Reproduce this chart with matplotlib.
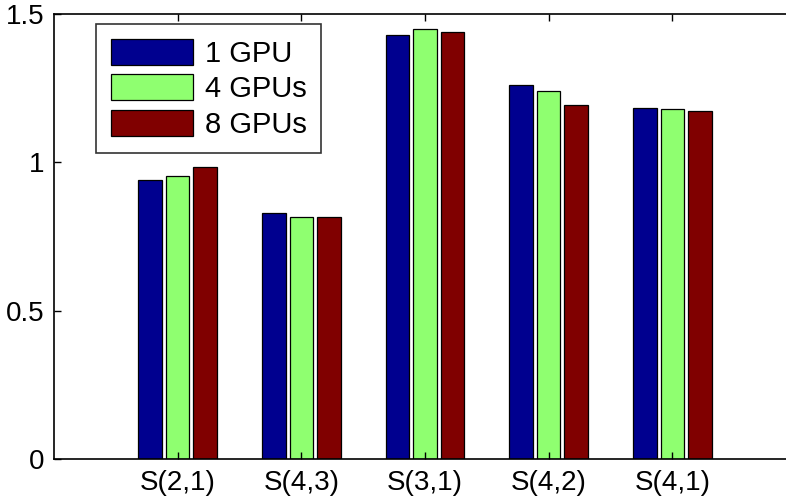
import matplotlib
matplotlib.use("Agg")
import matplotlib.pyplot as plt
import numpy as np

plt.rcParams['font.family'] = ['Liberation Sans', 'DejaVu Sans']

categories = ["S(2,1)", "S(4,3)", "S(3,1)", "S(4,2)", "S(4,1)"]
series_names = ["1 GPU", "4 GPUs", "8 GPUs"]
gpu1 = [0.940, 0.830, 1.429, 1.262, 1.183]
gpu4 = [0.955, 0.816, 1.449, 1.239, 1.181]
gpu8 = [0.984, 0.816, 1.438, 1.194, 1.172]
colors = ["#00008F", "#8FFF70", "#800000"]

fig = plt.figure(figsize=(7.86, 5.01), dpi=100)
ax = fig.add_axes([54/786, 42/501, (796-54)/786, 445/501])

x = np.arange(1, len(categories) + 1)
offset = 0.222
width = 0.19
for i, (vals, name, c) in enumerate(zip([gpu1, gpu4, gpu8], series_names, colors)):
    ax.bar(x + (i - 1) * offset, vals, width, color=c, edgecolor='black',
           linewidth=0.9, label=name)

ax.set_xlim(0, 6)
ax.set_ylim(0, 1.5)
ax.set_xticks(x)
ax.set_xticklabels(categories)
ax.set_yticks([0, 0.5, 1, 1.5])
ax.set_yticklabels(["0", "0.5", "1", "1.5"])
ax.tick_params(direction='in', length=5, width=1, labelsize=20,
               top=True, right=True, colors='black')
ax.tick_params(axis='x', pad=8)
ax.tick_params(axis='y', pad=7)
for s in ax.spines.values():
    s.set_linewidth(1.2)

leg = ax.legend(loc='upper left', bbox_to_anchor=(42/742, (459-24)/445),
                fontsize=21, frameon=True, fancybox=False, edgecolor='black',
                handlelength=2.83, handleheight=1.0, labelspacing=0.22,
                handletextpad=0.4, borderpad=0.5, borderaxespad=0)
leg.get_frame().set_linewidth(1.2)

fig.savefig("out.png", dpi=100)
